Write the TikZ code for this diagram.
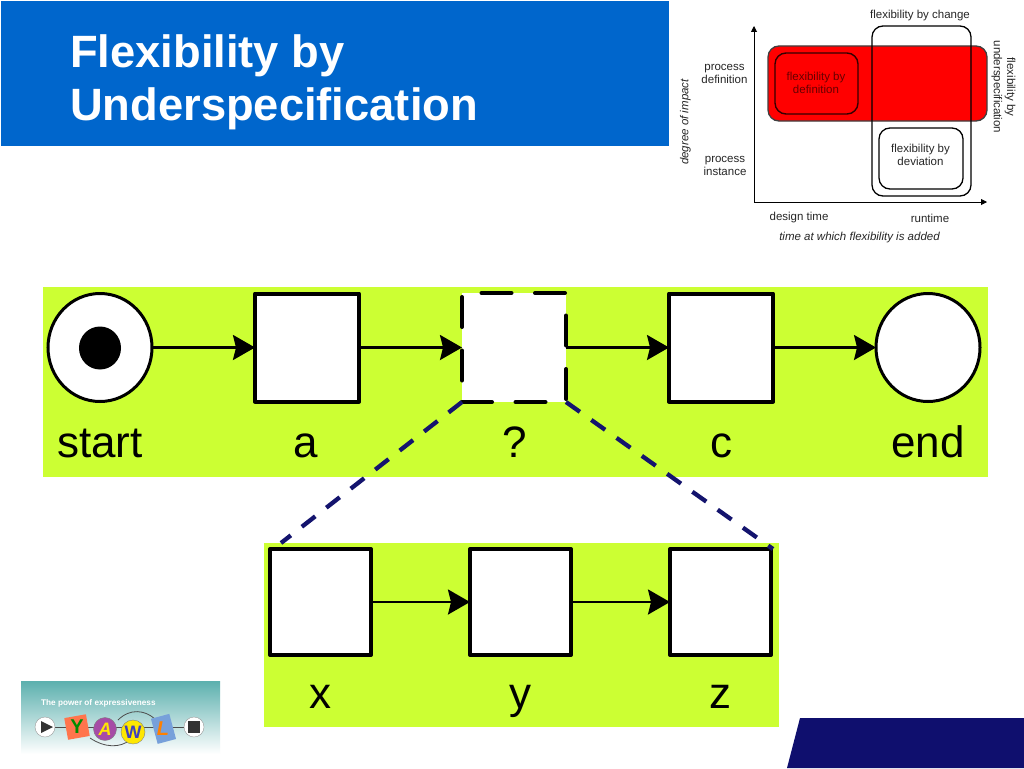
\documentclass[tikz,border=0pt]{standalone}
\usepackage{fontspec}
\setmainfont{Liberation Sans}
\usetikzlibrary{arrows.meta,positioning,calc,shapes.geometric}
\definecolor{banner}{HTML}{0066CC}
\definecolor{lime}{HTML}{CCFF33}
\definecolor{navyc}{HTML}{0F0F6E}
\definecolor{linkc}{HTML}{14146E}
\definecolor{tealtop}{HTML}{5CB0AE}
\newcommand{\fsz}[1]{\fontsize{#1}{#1}\selectfont}
\tikzset{
 x=1pt,y=-1pt,
 task/.style={draw=black,line width=4,line join=round,fill=white,minimum width=#1,minimum height=108,inner sep=0,outer sep=0},
 subtask/.style={draw=black,line width=4,line join=round,fill=white,minimum width=101,minimum height=106,inner sep=0,outer sep=0},
 cond/.style={draw=black,line width=3,fill=white,ellipse,minimum width=104,minimum height=108,inner sep=0,outer sep=0},
 flow/.style={line width=2.5,-{Stealth[length=22,width=25,inset=3]}},
 lab/.style={font=\fsz{44},inner sep=0,anchor=base},
 small/.style={font=\fsz{11.5},align=center,inner sep=0,text=black!85},
 region/.style={line width=1.3,rounded corners=11,inner sep=0,outer sep=0},
 link/.style={draw=linkc,line width=4.3,dash pattern=on 17pt off 14pt},
}
\begin{document}
\begin{tikzpicture}
\useasboundingbox[fill=white] (0,0) rectangle (1024,768);
% banner
\node[fill=banner,minimum width=668,minimum height=145,inner sep=0,outer sep=0,anchor=north west] (banner) at (1,1) {};
\node[text=white,font=\fsz{45.3}\bfseries,anchor=base west,inner sep=0] (t1) at (70,67) {Flexibility by};
\node[text=white,font=\fsz{45.3}\bfseries,anchor=base west,inner sep=0] (t2) at (70,120) {Underspecification};
% inset
\coordinate (o) at (754,202);
\coordinate (ytip) at (754,26);
\coordinate (xtip) at (987,202);
\draw[line width=.9,-{Triangle[length=6,width=6]}] (o) -- (ytip);
\draw[line width=.9,-{Triangle[length=6,width=6]}] (o) -- (xtip);
\draw[region,fill=red,draw=black!75] (768,46) rectangle (987,121);
\draw[region,draw=black] (872,26) rectangle (971,196);
\draw[region,draw=black!80!red,line width=1.4] (775,53) rectangle (858,114);
\draw[region,draw=black,fill=white] (879,128) rectangle (963,189);
\node[small,text=black!60!red] (fdef) at (816,83) {flexibility by\\[1.7pt]definition};
\node[small] (fdev) at (920.5,155) {flexibility by\\[1.7pt]deviation};
\node[small] (fchg) at (920,16) {flexibility by change};
\node[small,rotate=-90] (fund) at (1003.5,87) {flexibility by\\[1.7pt]underspecification};
\node[small] (pd) at (724.5,74) {process\\[1.7pt]definition};
\node[small] (pi) at (725,166) {process\\[1.7pt]instance};
\node[small,font=\fsz{11.5}\itshape,rotate=90] (doi) at (685.5,122) {degree of impact};
\node[small] (dt) at (799,218) {design time};
\node[small] (rt) at (930,218) {runtime};
\node[small,font=\fsz{11.5}\itshape] (tm) at (859.5,238) {time at which flexibility is added};
% bands
\node[fill=lime,minimum width=945,minimum height=190,inner sep=0,outer sep=0,anchor=north west] (band1) at (43,287) {};
\node[fill=lime,minimum width=515,minimum height=184,inner sep=0,outer sep=0,anchor=north west] (band2) at (264,543) {};
% top row
\node[cond] (start) at (100,347.5) {};
\node[fill=black,ellipse,minimum width=42,minimum height=43,inner sep=0,outer sep=0] (token) at (100,348) {};
\node[task=104] (a) at (307,347.5) {};
\node[fill=white,minimum width=104,minimum height=109,inner sep=0,outer sep=0] (q) at (514,347.5) {};
\draw[line width=4,line cap=round,dash pattern=on 30pt off 23.5pt]
  (q.south west) -- (q.south east) -- (q.north east) -- (q.north west) -- cycle;
\node[task=104] (c) at (721,347.5) {};
\node[cond] (end) at (928,347.5) {};
\draw[flow] (start) -- (a);
\draw[flow] (a) -- (q);
\draw[flow] (q) -- (c);
\draw[flow] (c) -- (end);
\node[lab] (lstart) at (100,457) {start};
\node[lab] (la) at (306,457) {a};
\node[lab] (lq) at (515,457) {?};
\node[lab] (lc) at (721,457) {c};
\node[lab] (lend) at (928,457) {end};
% bottom row
\node[subtask] (x) at (320.5,602) {};
\node[subtask] (y) at (520.5,602) {};
\node[subtask] (z) at (720.5,602) {};
\draw[flow] (x) -- (y);
\draw[flow] (y) -- (z);
\node[lab] (lx) at (320,708) {x};
\node[lab] (ly) at (520,708) {y};
\node[lab] (lz) at (720,708) {z};
% links
\coordinate (b1) at (281,543);
\coordinate (b2) at (773,549);
\draw[link] (q.south west) -- (b1);
\draw[link] (q.south east) -- (b2);
% corner
\fill[navyc] (800,718) -- (1024,718) -- (1024,768) -- (787,768) -- cycle;
% logo
\shade[top color=tealtop,bottom color=white] (21,681) rectangle (220,754);
\node[text=white,font=\fsz{8.2}\bfseries,anchor=west,inner sep=0] (lg) at (41,703) {The power of expressiveness};
\draw[black!70,line width=.8] (55,727) -- (194,727);
\draw[black!70,line width=.8] (90,738) .. controls (105,748) and (120,748) .. (130,740);
\draw[black!70,line width=.8] (118,720) .. controls (130,708) and (145,710) .. (155,719);
\fill[white,draw=black!40] (45,727) circle (10);
\fill[black!80] (41,721) -- (53,727) -- (41,733) -- cycle;
\fill[red!55!orange!70,rotate around={10:(77,727)}] (66,716) rectangle (88,738);
\node[text=green!55!black,font=\fsz{20}\bfseries,inner sep=0] (ly1) at (77,727) {Y};
\fill[violet!70!white,draw=black!50] (105,729) circle (11.5);
\node[text=yellow!90!orange,font=\fsz{18}\bfseries\itshape,inner sep=0] (la1) at (105,729) {A};
\fill[yellow!90!orange,draw=black!50] (133,732) circle (12);
\node[text=blue!50!gray,font=\fsz{18}\bfseries,inner sep=0] (lw1) at (133,732) {W};
\fill[cyan!50!blue!55,rotate around={15:(163,729)}] (154,716) rectangle (173,742);
\node[text=orange,font=\fsz{20}\bfseries\itshape,inner sep=0] (ll1) at (163,729) {L};
\fill[white,draw=black!40] (194,727) circle (10);
\fill[black!80] (188,721) rectangle (200,733);
\end{tikzpicture}
\end{document}
